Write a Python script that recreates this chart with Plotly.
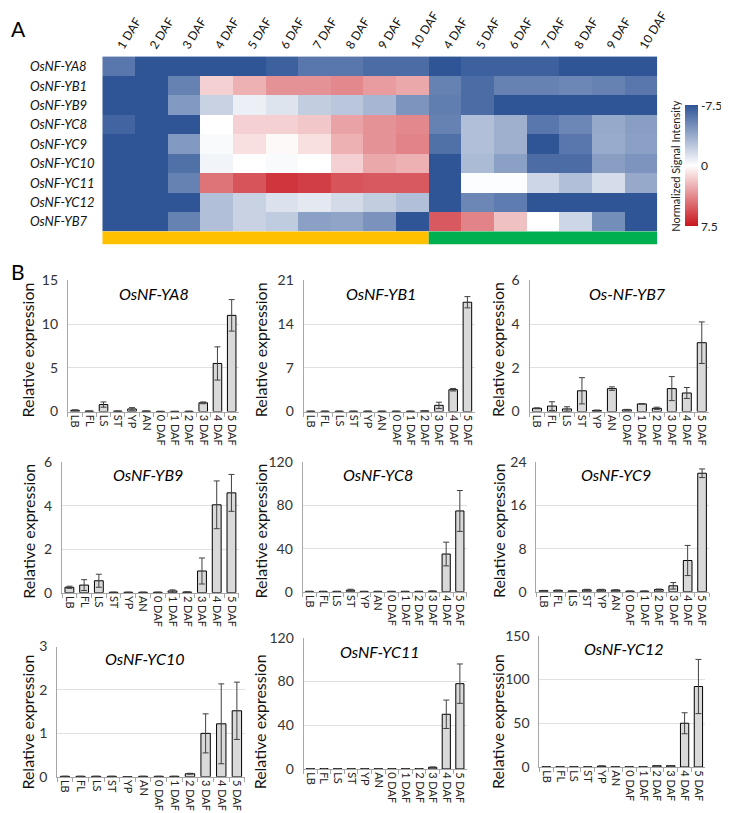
import plotly.graph_objects as go

W, H = 729, 813
FONT = "Lato"

# ---------------- Panel A data ----------------
hm_genes = ["OsNF-YA8", "OsNF-YB1", "OsNF-YB9", "OsNF-YC8", "OsNF-YC9",
            "OsNF-YC10", "OsNF-YC11", "OsNF-YC12", "OsNF-YB7"]
hm_cols = ["1 DAF", "2 DAF", "3 DAF", "4 DAF", "5 DAF", "6 DAF", "7 DAF", "8 DAF", "9 DAF", "10 DAF",
           "4 DAF", "5 DAF", "6 DAF", "7 DAF", "8 DAF", "9 DAF", "10 DAF"]
hm_groups = [10, 7]  # yellow group, green group
hm_group_colors = ["#FFC000", "#00B050"]
hm_values = [
    [-6.0, -7.5, -7.5, -7.5, -7.5, -7.0, -6.0, -6.0, -6.5, -6.5, -7.5, -7.0, -7.0, -7.0, -7.5, -7.5, -7.5],
    [-7.5, -7.5, -5.5, 1.5, 2.5, 3.5, 3.5, 3.8, 3.2, 2.8, -5.5, -6.5, -5.5, -5.5, -5.3, -5.5, -6.0],
    [-7.5, -7.5, -4.5, -2.0, -0.7, -1.2, -2.2, -2.5, -3.2, -4.7, -5.7, -6.5, -7.5, -7.5, -7.5, -7.5, -7.5],
    [-6.8, -7.5, -7.5, 0.0, 1.5, 1.5, 1.8, 3.0, 3.5, 3.8, -5.5, -2.8, -3.5, -6.0, -5.3, -3.8, -4.3],
    [-7.5, -7.5, -4.5, -0.2, 1.0, 0.2, 1.0, 2.5, 3.5, 4.0, -6.3, -2.8, -3.5, -7.5, -6.0, -3.7, -4.2],
    [-7.5, -7.5, -6.3, -0.5, 0.0, -0.2, 0.0, 1.5, 2.8, 2.5, -7.5, -3.0, -4.2, -6.5, -6.5, -4.3, -4.7],
    [-7.5, -7.5, -5.5, 4.5, 5.5, 6.5, 6.2, 5.5, 5.3, 5.3, -7.5, -0.1, -0.1, -1.8, -2.8, -1.5, -3.8],
    [-7.5, -7.5, -7.5, -2.8, -2.0, -1.3, -1.0, -1.6, -2.2, -2.8, -7.5, -5.3, -5.8, -7.5, -7.5, -7.5, -7.5],
    [-7.5, -7.5, -5.5, -2.8, -2.0, -2.3, -4.2, -4.0, -4.8, -7.5, 5.3, 4.0, 2.0, 0.0, -1.8, -5.0, -7.5],
]
cb_ticks = [-7.5, 0, 7.5]

# ---------------- Panel B data ----------------
categories = ["LB", "FL", "LS", "ST", "YP", "AN", "0 DAF", "1 DAF", "2 DAF", "3 DAF", "4 DAF", "5 DAF"]

titles = ["OsNF-YA8", "OsNF-YB1", "Os-NF-YB7", "OsNF-YB9", "OsNF-YC8", "OsNF-YC9",
          "OsNF-YC10", "OsNF-YC11", "OsNF-YC12"]
y_max = [15, 21, 6, 6, 120, 24, 3, 120, 150]
y_dtick = [5, 7, 2, 2, 40, 8, 1, 40, 50]

ya8_mean = [0.15, 0.05, 0.8, 0.05, 0.3, 0.05, 0.02, 0.02, 0.03, 1.0, 5.5, 11.0]
ya8_err = [0.05, 0.0, 0.3, 0.0, 0.15, 0.0, 0.0, 0.0, 0.0, 0.1, 1.9, 1.8]
yb1_mean = [0.05, 0.05, 0.05, 0.05, 0.05, 0.05, 0.05, 0.05, 0.1, 1.0, 3.5, 17.5]
yb1_err = [0, 0, 0, 0, 0, 0, 0, 0, 0, 0.5, 0.2, 0.9]
yb7_mean = [0.15, 0.25, 0.12, 0.95, 0.05, 1.05, 0.08, 0.35, 0.15, 1.05, 0.85, 3.15]
yb7_err = [0.02, 0.2, 0.1, 0.6, 0.02, 0.08, 0.02, 0.0, 0.05, 0.55, 0.25, 0.95]
yb9_mean = [0.25, 0.35, 0.55, 0.02, 0.02, 0.02, 0.02, 0.08, 0.03, 1.0, 4.05, 4.6]
yb9_err = [0.05, 0.25, 0.3, 0, 0, 0, 0, 0.05, 0, 0.6, 1.1, 0.85]
yc8_mean = [0.3, 0.3, 0.3, 1.5, 0.3, 0.3, 0.3, 0.3, 0.3, 0.5, 35, 75]
yc8_err = [0, 0, 0, 0.8, 0, 0, 0, 0, 0, 0, 11, 19]
yc9_mean = [0.2, 0.25, 0.15, 0.35, 0.35, 0.3, 0.1, 0.1, 0.4, 1.1, 5.8, 22.0]
yc9_err = [0.05, 0.05, 0.05, 0.1, 0.1, 0.05, 0, 0, 0.1, 0.6, 2.8, 0.8]
yc10_mean = [0.01, 0.01, 0.01, 0.01, 0.0, 0.01, 0.01, 0.01, 0.07, 1.0, 1.22, 1.52]
yc10_err = [0, 0, 0, 0, 0, 0, 0, 0, 0.01, 0.45, 0.92, 0.66]
yc11_mean = [0.3, 0.3, 0.3, 0.3, 0.3, 0.3, 0.3, 0.3, 0.3, 1.5, 50, 78]
yc11_err = [0, 0, 0, 0, 0, 0, 0, 0, 0, 0.3, 13, 18]
yc12_mean = [0.3, 0.3, 0.3, 0.3, 1.0, 0.3, 0.3, 0.3, 1.5, 1.5, 50, 92]
yc12_err = [0, 0, 0, 0, 0.2, 0, 0, 0, 0.2, 0.2, 12, 31]

means = [ya8_mean, yb1_mean, yb7_mean, yb9_mean, yc8_mean, yc9_mean, yc10_mean, yc11_mean, yc12_mean]
errs = [ya8_err, yb1_err, yb7_err, yb9_err, yc8_err, yc9_err, yc10_err, yc11_err, yc12_err]

# ---------------- layout geometry (pixels) ----------------
def px_x(x):
    return x / W

def px_y(y):
    return 1 - y / H

panel_px = [  # x0, x1, ytop, ybottom
    (61, 235, 269, 403), (301, 475, 269, 403), (531, 714, 269, 403),
    (55, 235, 455, 588), (300, 467, 455, 587), (538, 714, 455, 587),
    (50, 241, 643, 776), (301, 467, 634, 768), (541, 710, 632, 766),
]
title_px = [(149, 282), (380, 282), (631, 282),
            (143, 467), (377, 467), (619, 467),
            (139, 655), (378, 648), (627, 645)]
ylab_x = [20, 257, 499]
ylab_y = [340, 525, 720]

fig = go.Figure()

# Heatmap (negated so that -7.5 sits at the top of the colour bar)
z_plot = [[-v for v in row] for row in hm_values]
colorscale = [[0.0, "#C8161E"], [0.5, "#FFFFFF"], [1.0, "#2F5597"]]
fig.add_trace(go.Heatmap(
    z=z_plot, x=list(range(len(hm_cols))), y=hm_genes,
    zmin=-7.5, zmax=7.5, colorscale=colorscale, xaxis="x", yaxis="y",
    colorbar=dict(x=px_x(689), xanchor="left", y=px_y(152), yanchor="middle",
                  len=121, lenmode="pixels", thickness=13, thicknessmode="pixels",
                  xpad=0, ypad=0, outlinewidth=0, tickvals=[-t for t in cb_ticks],
                  ticktext=[str(t) for t in cb_ticks], ticks="",
                  tickfont=dict(family=FONT, size=12, color="#222")),
    hoverinfo="skip",
))

hm_x0, hm_x1, hm_y0, hm_y1 = 96, 661, 40, 219
fig.update_layout(
    xaxis=dict(domain=[px_x(hm_x0), px_x(hm_x1)], anchor="y", side="top",
               tickvals=list(range(len(hm_cols))), ticktext=hm_cols, tickangle=-58,
               tickfont=dict(family=FONT, size=12, color="#111"), showgrid=False,
               zeroline=False, ticks="", range=[-0.5, len(hm_cols) - 0.5]),
    yaxis=dict(domain=[px_y(hm_y1), px_y(hm_y0)], anchor="x", autorange="reversed",
               showticklabels=False, showgrid=False, zeroline=False, ticks=""),
)

# group colour strip under the heatmap
shapes = []
start = -0.5
for n, col in zip(hm_groups, hm_group_colors):
    shapes.append(dict(type="rect", xref="x", yref="paper", x0=start, x1=start + n,
                       y0=px_y(232), y1=px_y(hm_y1), fillcolor=col, line=dict(width=0)))
    start += n

annotations = [
    dict(text="A", x=px_x(1), y=px_y(12), xref="paper", yref="paper", showarrow=False,
         xanchor="left", yanchor="middle", font=dict(family=FONT, size=21, color="#000")),
    dict(text="B", x=px_x(1), y=px_y(260), xref="paper", yref="paper", showarrow=False,
         xanchor="left", yanchor="middle", font=dict(family=FONT, size=21, color="#000")),
    dict(text="Normalized Signal Intensity", x=px_x(680), y=px_y(152), xref="paper",
         yref="paper", showarrow=False, textangle=-90, xanchor="center", yanchor="middle",
         font=dict(family=FONT, size=11, color="#222")),
]
# left-aligned italic gene labels for the heatmap rows
for g in hm_genes:
    annotations.append(dict(text="<i>" + g + "</i>", x=px_x(20), y=g, xref="paper",
                            yref="y", showarrow=False, xanchor="left", yanchor="middle",
                            font=dict(family=FONT, size=13, color="#111")))

for i in range(9):
    ax = i + 2
    xa, ya = f"x{ax}", f"y{ax}"
    x0, x1, yt, yb = panel_px[i]
    fig.add_trace(go.Bar(
        x=categories, y=means[i], xaxis=xa, yaxis=ya,
        marker=dict(color="#D9D9D9", line=dict(color="#000000", width=1)),
        error_y=dict(type="data", array=errs[i], visible=True, color="#404040",
                     thickness=1, width=3),
        showlegend=False, hoverinfo="skip",
    ))
    fig.layout[f"xaxis{ax}"] = dict(
        domain=[px_x(x0), px_x(x1)], anchor=ya, type="category", tickangle=90,
        tickfont=dict(family=FONT, size=11, color="#222"), showline=True,
        linecolor="#A6A6A6", linewidth=1, ticks="outside", tickson="boundaries",
        ticklen=4, tickcolor="#A6A6A6", showgrid=False)
    fig.layout[f"yaxis{ax}"] = dict(
        domain=[px_y(yb), px_y(yt)], anchor=xa, range=[0, y_max[i]], dtick=y_dtick[i],
        tick0=0, tickfont=dict(family=FONT, size=14, color="#333"), showline=True,
        linecolor="#A6A6A6", linewidth=1, showgrid=True, gridcolor="#E0E0E0",
        zeroline=False, ticks="", ticklabelstandoff=6)
    tx, ty = title_px[i]
    annotations.append(dict(text="<i>" + titles[i] + "</i>", x=px_x(tx), y=px_y(ty),
                            xref="paper", yref="paper", showarrow=False,
                            xanchor="center", yanchor="middle",
                            font=dict(family=FONT, size=16, color="#000")))
    annotations.append(dict(text="Relative expression", x=px_x(ylab_x[i % 3]),
                            y=px_y(ylab_y[i // 3]), xref="paper", yref="paper",
                            showarrow=False, textangle=-90, xanchor="center",
                            yanchor="middle", font=dict(family=FONT, size=16, color="#111")))

fig.update_layout(
    width=W, height=H, margin=dict(l=0, r=0, t=0, b=0),
    paper_bgcolor="white", plot_bgcolor="white",
    bargap=0.4, showlegend=False,
    shapes=shapes, annotations=annotations,
    font=dict(family=FONT),
)

fig.write_html("out.html")
